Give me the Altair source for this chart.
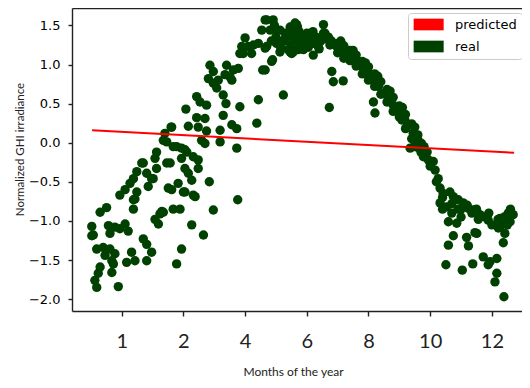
import altair as alt
import pandas as pd

# ---- data ----
a_month = [-0.97,-0.92,-0.97,-0.87,-0.81,-0.76,-0.70,-0.81,-0.60,-0.38,-0.22,-0.54,-0.32,-0.32,-0.27,
           -0.70,-0.49,-0.43,-0.22,-0.06,0.11,0.21,-0.38,-0.11,-0.06,0.11,0.27,0.38,0.43,0.38,
           0.49,0.49,0.38,0.65,0.70,0.81,0.86,0.97,1.02,1.13,1.13,1.08,1.46,1.30,1.08,
           1.24,1.35,1.19,1.67,1.89,0.32,0.43,0.16,0.81,0.70,0.81,0.97,1.94,1.78,2.27,
           2.65,2.97,3.76,1.51,1.83,2.05,2.32,2.27,2.05,2.32,2.05,1.78,1.46,1.40,1.60,
           1.62,2.38,2.00,2.16,2.48,2.84,1.57,2.48,1.94,1.67,1.62,1.35,1.94,2.11]
a_ghi = [-1.07,-1.18,-1.19,-1.76,-1.85,-1.67,-1.59,-1.36,-1.34,-1.36,-1.42,-1.44,-1.51,-1.66,-1.55,
         -0.89,-0.83,-1.06,-1.08,-1.10,-1.04,-1.13,-1.16,-1.84,-0.67,-0.60,-0.52,-0.73,-0.72,-0.85,
         -0.63,-0.37,-0.46,-0.26,-0.26,-0.39,-0.56,-0.46,-0.46,-0.33,-0.12,-0.20,-0.26,-0.88,-0.98,
         -0.91,-0.89,-1.04,-0.85,-0.85,-1.40,-1.51,-1.53,-1.51,-1.23,-1.30,-1.40,-1.36,-1.55,-1.05,
         -1.18,-0.86,-0.73,-0.58,-0.52,-0.63,-0.67,-0.48,-0.33,-0.18,-0.09,-0.05,0.01,0.12,0.20,
         -0.60,-0.69,-0.63,-0.39,-0.33,-0.50,-0.26,-0.22,-0.07,-0.05,0.20,0.03,-0.20,-0.12]

b_month = [2.08,2.16,2.43,2.48,2.70,2.75,2.59,2.70,3.19,3.19,3.29,3.57,3.73,3.73,4.38,
           2.43,2.54,2.75,3.29,3.38,3.83,4.43,5.24,2.86,2.97,2.81,2.97,3.08,3.13,3.35,
           3.57,3.40,3.62,3.51,3.78,4.57,4.00,3.89,4.10,3.83,3.94,4.27,4.43,4.21,4.70,
           4.65,5.02,5.24,5.40,5.62,5.13,5.46,5.72,4.89,4.70,4.91,4.54,4.81,5.13,5.46,
           5.62,4.65,4.86,4.65,5.67,5.40,5.51]
b_ghi = [0.43,0.21,0.32,0.20,0.31,0.15,0.03,-0.01,0.16,0.01,0.35,0.23,0.18,-0.07,0.25,
         0.59,0.52,0.48,0.61,0.50,0.46,0.55,0.61,0.99,0.91,0.82,0.76,0.70,0.80,0.87,
         0.80,0.99,0.93,0.84,0.95,0.93,1.34,1.23,1.23,1.14,1.14,1.25,1.27,1.14,1.23,
         1.21,1.27,1.31,1.36,1.31,1.16,1.16,1.19,1.06,1.57,1.57,1.44,1.44,1.44,1.48,
         1.53,1.57,1.04,0.93,1.51,1.19,1.14]

c_month = [5.51,6.54,6.54,5.78,6.00,6.21,6.37,5.56,5.89,6.21,6.75,6.97,7.18,7.35,7.51,
           7.67,7.83,7.99,8.16,8.32,8.48,8.64,8.80,8.97,9.18,9.08,9.24,9.45,9.61,9.72,
           9.35,9.51,9.78,9.94,10.10,10.16,10.26,10.32,10.42,10.64,10.75,10.91,11.07,10.32,10.53,
           11.24,11.35,11.61,11.78,11.88,12.26,12.53,12.69,12.59,10.59,10.86,11.51,10.75,11.18,11.24,
           10.59,12.21,12.42,12.37,11.72,11.94,12.16,11.88,10.51,11.04,11.38,12.16,12.10,12.39,6.81,
           6.86,7.18,6.73,8.16,8.21,5.94,6.16,6.37,6.59,11.45,12.20,12.42,11.56]
c_ghi = [1.44,1.51,1.40,1.34,1.29,1.27,1.29,1.16,1.19,1.12,1.25,1.23,1.19,1.14,1.08,
         1.02,0.95,0.89,0.80,0.72,0.63,0.57,0.48,0.40,0.29,0.29,0.20,0.12,0.03,-0.01,
         -0.07,-0.03,-0.18,-0.22,-0.24,-0.35,-0.46,-0.58,-0.65,-0.63,-0.69,-0.73,-0.77,-0.77,-0.82,
         -0.84,-0.90,-0.92,-0.95,-0.99,-0.97,-0.90,-0.92,-1.01,-1.01,-1.03,-1.16,-1.19,-1.21,-1.32,
         -1.31,-1.09,-1.16,-1.28,-1.46,-1.52,-1.48,-1.56,-1.56,-1.63,-1.55,-1.67,-1.78,-1.97,0.91,
         0.78,0.79,0.45,0.52,0.38,1.36,1.27,1.23,1.40,-1.15,-0.98,-1.00,-0.98]

d_month = [6.60,6.80,7.00,7.20,7.40,7.60,7.80,8.00,8.20,8.40,8.60,8.80,9.00,9.20,9.40,
           9.60,9.80,9.90,10.00,10.20,10.40,10.70,11.00,11.40,11.90,12.40,
           7.00,7.40,7.80,8.20,8.60,9.00,9.40,9.60,
           5.30,5.75,5.90,6.10,6.30,5.00,4.85,5.50,6.40,6.05]
d_ghi = [1.33,1.30,1.27,1.24,1.18,1.12,1.04,0.97,0.88,0.78,0.68,0.58,0.47,0.36,0.24,
         0.10,-0.05,-0.12,-0.30,-0.50,-0.70,-0.78,-0.85,-0.86,-0.90,-0.95,
         1.15,1.05,0.88,0.72,0.52,0.33,0.05,-0.06,
         1.40,1.42,1.37,1.33,1.35,1.35,1.30,1.25,1.20,1.22]

e_month = [6.70,7.10,7.50,7.90,8.30,8.70,9.10,9.50,
           7.20,7.60,8.00,8.40,8.80,9.20,9.50,9.70,
           10.40,10.70,11.00,11.20,11.50,12.00,12.30,12.60,12.50,10.90,
           5.00,5.30,5.60,5.80,6.00,6.20,6.45,5.15,5.70,4.95]
e_ghi = [1.35,1.30,1.18,1.02,0.85,0.66,0.45,0.20,
         1.08,0.98,0.80,0.62,0.40,0.18,-0.05,-0.12,
         -0.85,-0.90,-0.95,-0.80,-0.85,-1.05,-1.05,-0.85,-1.05,-0.85,
         1.45,1.30,1.40,1.25,1.40,1.42,1.30,1.22,1.48,1.50]

pred_month = [-0.96, 12.72]
pred_ghi = [0.159, -0.128]

series_names = ["predicted", "real"]
series_colors = ["#ff0000", "#004000"]

x_tick_values = [0, 2, 4, 6, 8, 10, 12]
x_tick_labels = ["1", "2", "4", "6", "8", "10", "12"]
y_tick_values = [-2.0, -1.5, -1.0, -0.5, 0.0, 0.5, 1.0, 1.5]

# ---- tables ----
real_df = pd.DataFrame({
    "month": a_month + b_month + c_month + d_month + e_month,
    "ghi": a_ghi + b_ghi + c_ghi + d_ghi + e_ghi,
})
real_df["series"] = "real"
pred_df = pd.DataFrame({"month": pred_month, "ghi": pred_ghi})
pred_df["series"] = "predicted"

label_expr = ""
for v, lab in zip(x_tick_values, x_tick_labels):
    label_expr += f"datum.value == {v} ? '{lab}' : "
label_expr += "''"

xscale = alt.Scale(domain=[-1.611, 12.976], nice=False, zero=False)
yscale = alt.Scale(domain=[-2.152, 1.7225], nice=False, zero=False)

color = alt.Color(
    "series:N",
    scale=alt.Scale(domain=series_names, range=series_colors),
    legend=alt.Legend(
        title=None, orient="none", legendX=336, legendY=5,
        symbolType="M-1,-1H4.13V1H-1Z", symbolSize=137, symbolStrokeWidth=0,
        symbolOpacity=1,
        labelFont="DejaVu Sans", labelFontSize=13, labelColor="#000000",
        labelOffset=29, rowPadding=8, padding=5,
        strokeColor="#cccccc", fillColor="#ffffff", cornerRadius=3,
    ),
)

x_axis = alt.Axis(
    values=x_tick_values, labelExpr=label_expr, title="Months of the year",
    grid=False, domainColor="#222222", domainWidth=1.4, tickColor="#222222",
    tickWidth=1.4, tickSize=5, labelFont="Lato", labelFontSize=20,
    labelColor="#222222", labelPadding=15, labelFlush=False,
    titleFont="Lato", titleFontSize=12, titleFontWeight="normal", titleColor="#222222",
    titleX=221, titleY=60, titleBaseline="middle", titleAlign="center",
)
y_axis = alt.Axis(
    values=y_tick_values, format=".1f", title="Normalized GHI irradiance",
    grid=False, domainColor="#222222", domainWidth=1.4, tickColor="#222222",
    tickWidth=1.4, tickSize=4, labelFont="DejaVu Sans", labelFontSize=13,
    labelColor="#000000", labelPadding=8, labelFlush=False,
    titleFont="Lato", titleFontSize=11.5, titleFontWeight="normal", titleColor="#222222",
    titleX=-52, titleY=141, titleAngle=270, titleAlign="center", titleBaseline="middle",
)

points = alt.Chart(real_df).mark_circle(size=88, opacity=1).encode(
    x=alt.X("month:Q", scale=xscale, axis=x_axis),
    y=alt.Y("ghi:Q", scale=yscale, axis=y_axis),
    color=color,
)

line = alt.Chart(pred_df).mark_line(strokeWidth=2).encode(
    x=alt.X("month:Q", scale=xscale,
            axis=alt.Axis(orient="top", labels=False, ticks=False, title=None,
                          grid=False, domainColor="#222222", domainWidth=1.4)),
    y=alt.Y("ghi:Q", scale=yscale),
    color=color,
)

chart = alt.layer(points, line).resolve_axis(x="independent").properties(
    width=450, height=303,
    autosize=alt.AutoSizeParams(type="none"),
    padding={"left": 64, "top": 0, "right": 0, "bottom": 69},
).configure_view(stroke=None)

chart.save("out.html", embed_options={"renderer": "svg", "actions": False})
